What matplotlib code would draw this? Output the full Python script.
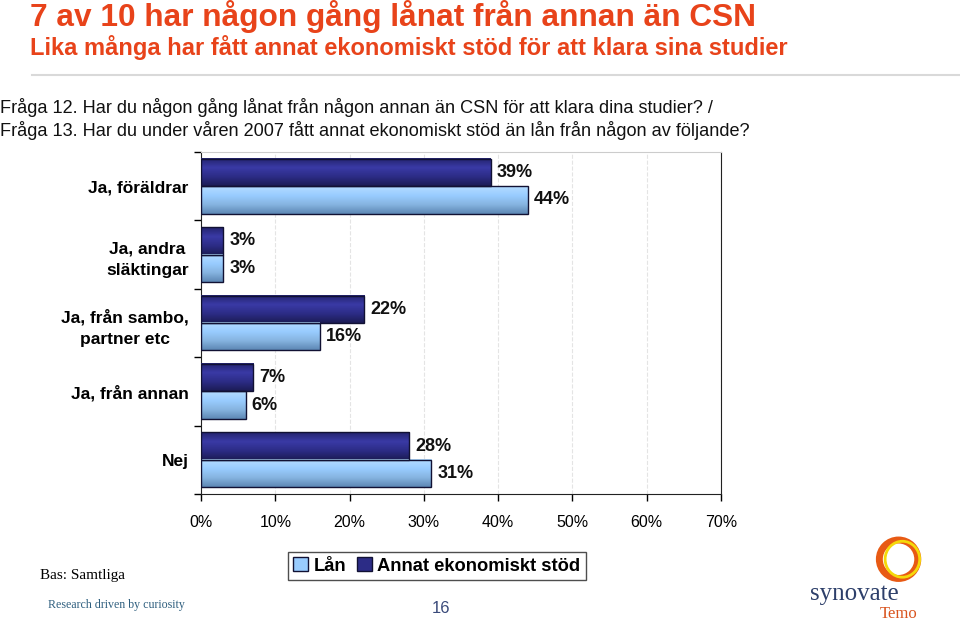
import numpy as np
import matplotlib.pyplot as plt
from matplotlib.patches import Patch, Ellipse
from matplotlib.colors import LinearSegmentedColormap

plt.rcParams['font.family'] = ['Liberation Sans', 'DejaVu Sans']

categories = ['Ja, föräldrar', 'Ja, andra\nsläktingar', 'Ja, från sambo,\npartner etc',
              'Ja, från annan', 'Nej']
annat = [39, 3, 22, 7, 28]   # Annat ekonomiskt stöd (dark)
lan = [44, 3, 16, 6, 31]     # Lån (light)
xticks = [0, 10, 20, 30, 40, 50, 60, 70]

dark_cmap = LinearSegmentedColormap.from_list('dark', ['#23236e', '#3a3aa6', '#2c2c86', '#1c1c55'])
light_cmap = LinearSegmentedColormap.from_list('light', ['#b4dcff', '#99ccff', '#86b4e0', '#5d87b4'])

fig = plt.figure(figsize=(9.6, 6.2), dpi=100)
ax = fig.add_axes([0.2094, 0.2032, 0.5417, 0.5516])

h = 0.4
y = np.arange(len(categories)) + 0.5
grad = np.linspace(0, 1, 64).reshape(-1, 1)


def draw_bars(vals, offset, cmap):
    bars = ax.barh(y + offset, vals, height=h, facecolor='none', edgecolor='#111133',
                   linewidth=1.0, zorder=4)
    for b, v in zip(bars, vals):
        y0 = b.get_y()
        ax.imshow(grad, cmap=cmap, aspect='auto', extent=(0, v, y0 + h, y0),
                  zorder=3, interpolation='bicubic')
        ax.text(v + 0.8, y0 + h / 2, f'{v}%', va='center', ha='left', fontsize=13,
                fontweight='bold', color='#111111', zorder=5)


draw_bars(annat, -h / 2, dark_cmap)
draw_bars(lan, h / 2, light_cmap)

ax.set_xlim(0, 70)
ax.set_ylim(5, 0)
ax.set_xticks(xticks)
ax.set_xticklabels([f'{t}%' for t in xticks], fontsize=11.5)
ax.tick_params(axis='x', length=5, width=1, pad=10, direction='out')
ax.set_yticks(range(6))
ax.set_yticklabels([])
ax.set_yticks(y, minor=True)
ax.set_yticklabels(categories, minor=True, fontsize=12.5, fontweight='bold',
                   multialignment='center')
for lbl in ax.get_yticklabels(minor=True):
    lbl.set_linespacing(1.6)
ax.tick_params(axis='y', which='major', length=5, width=1, direction='out')
ax.tick_params(axis='y', which='minor', length=0, pad=9)
ax.grid(axis='x', color='#e4e4e4', linestyle='--', linewidth=0.8, zorder=0)
ax.spines['top'].set_color('#cccccc')
for s in ['left', 'bottom', 'right']:
    ax.spines[s].set_color('#222222')

# header
fig.text(0.031, 0.974, '7 av 10 har någon gång lånat från annan än CSN', fontsize=22.8,
         fontweight='bold', color='#e8431a', va='center')
fig.text(0.031, 0.923, 'Lika många har fått annat ekonomiskt stöd för att klara sina studier',
         fontsize=17, fontweight='bold', color='#e8431a', va='center')
fig.add_artist(plt.Line2D([0.033, 1.0], [0.879, 0.879], color='#d9d9d9', linewidth=1.5))
fig.text(0.0, 0.826, 'Fråga 12. Har du någon gång lånat från någon annan än CSN för att klara dina studier? /',
         fontsize=13.1, color='#111111', va='center')
fig.text(0.0, 0.789, 'Fråga 13. Har du under våren 2007 fått annat ekonomiskt stöd än lån från någon av följande?',
         fontsize=13.1, color='#111111', va='center')

handles = [Patch(facecolor='#99ccff', edgecolor='#111133', label='Lån'),
           Patch(facecolor='#2c2c86', edgecolor='#111133', label='Annat ekonomiskt stöd')]
leg = fig.legend(handles=handles, loc='center', bbox_to_anchor=(0.455, 0.087), ncol=2,
                 frameon=True, fancybox=False, edgecolor='#222222', handlelength=0.8,
                 handleheight=0.8, handletextpad=0.3, columnspacing=0.6, borderpad=0.3,
                 prop={'weight': 'bold', 'size': 13.2})
leg.get_frame().set_linewidth(1.0)

# footer
fig.text(0.042, 0.071, 'Bas: Samtliga', fontsize=11, family='Liberation Serif', va='center')
fig.text(0.050, 0.024, 'Research driven by curiosity', fontsize=8.6, family='Liberation Serif',
         color='#2f5f7f', va='center')
fig.text(0.459, 0.019, '16', fontsize=12, color='#3a4a7a', ha='center', va='center')
fig.add_artist(Ellipse((0.936, 0.098), 0.040, 0.062, transform=fig.transFigure,
                       facecolor='none', edgecolor='#e85a14', linewidth=5))
fig.add_artist(Ellipse((0.940, 0.098), 0.036, 0.058, transform=fig.transFigure,
                       facecolor='none', edgecolor='#f5d90a', linewidth=2))
fig.text(0.890, 0.042, 'synovate', fontsize=18, family='Liberation Serif', color='#2d3f6a',
         ha='center', va='center')
fig.text(0.936, 0.010, 'Temo', fontsize=12, family='Liberation Serif', color='#d9541e',
         ha='center', va='center')

fig.savefig('out.png', dpi=100)
